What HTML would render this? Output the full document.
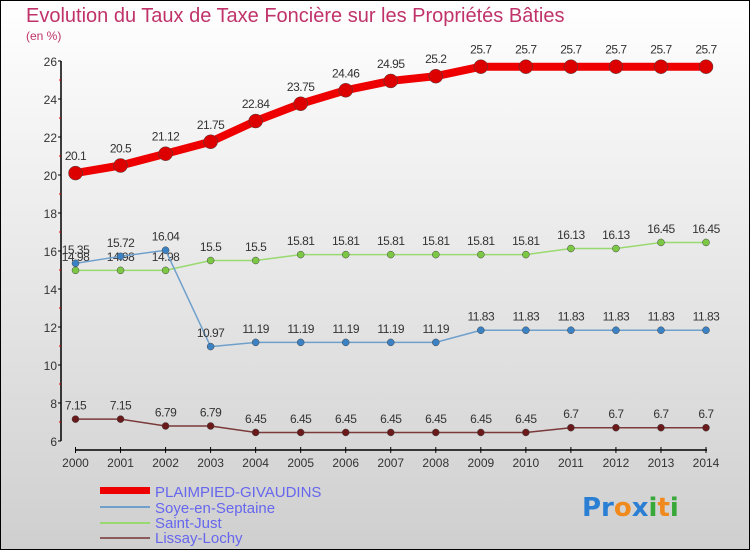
<!DOCTYPE html>
<html><head><meta charset="utf-8"><style>
html,body{margin:0;padding:0}
body{width:750px;height:550px;overflow:hidden;font-family:"Liberation Sans",sans-serif}
svg{display:block}
</style></head><body>
<svg id="chart" width="750" height="550">
<defs><linearGradient id="bg" x1="0" y1="0" x2="0" y2="1"><stop offset="0" stop-color="#ffffff"/><stop offset="1" stop-color="#cfcfcf"/></linearGradient></defs>
<rect x="0.5" y="0.5" width="749" height="549" fill="url(#bg)" stroke="#000" stroke-width="1"/>
<text x="26" y="22" font-size="20" fill="#c0336a">Evolution du Taux de Taxe Foncière sur les Propriétés Bâties</text>
<text x="26" y="40" font-size="12" fill="#c0336a">(en %)</text>
<g id="axes"></g><g id="series"></g>
<g>
<rect x="100" y="487" width="50" height="7" fill="#ee0000"/>
<text x="155" y="497" font-size="15" fill="#6666ee">PLAIMPIED-GIVAUDINS</text>
<rect x="100" y="506" width="50" height="2" fill="#6fa0cc"/>
<text x="155" y="513" font-size="15" fill="#6666ee">Soye-en-Septaine</text>
<rect x="100" y="522" width="50" height="2" fill="#99d970"/>
<text x="155" y="528" font-size="15" fill="#6666ee">Saint-Just</text>
<rect x="100" y="537" width="50" height="2" fill="#8b5a5a"/>
<text x="155" y="543" font-size="15" fill="#6666ee">Lissay-Lochy</text>
</g>
<text x="582" y="516" font-size="26" font-weight="bold" font-family="'DejaVu Sans',sans-serif"><tspan fill="#2a7fd4">Pr</tspan><tspan fill="#f08a1c">o</tspan><tspan fill="#2a7fd4">x</tspan><tspan fill="#38a838">i</tspan><tspan fill="#f08a1c">t</tspan><tspan fill="#38a838">i</tspan></text>
</svg>
<script>
const years = [2000,2001,2002,2003,2004,2005,2006,2007,2008,2009,2010,2011,2012,2013,2014];
const plaimpied = [20.1,20.5,21.12,21.75,22.84,23.75,24.46,24.95,25.2,25.7,25.7,25.7,25.7,25.7,25.7];
const soye = [15.35,15.72,16.04,10.97,11.19,11.19,11.19,11.19,11.19,11.83,11.83,11.83,11.83,11.83,11.83];
const saintJust = [14.98,14.98,14.98,15.5,15.5,15.81,15.81,15.81,15.81,15.81,15.81,16.13,16.13,16.45,16.45];
const lissay = [7.15,7.15,6.79,6.79,6.45,6.45,6.45,6.45,6.45,6.45,6.45,6.7,6.7,6.7,6.7];
const yTicks = [6,8,10,12,14,16,18,20,22,24,26];
const NS='http://www.w3.org/2000/svg';
const xS = i => 75.5 + i*(706-75.5)/(years.length-1);
const yS = v => 441 - (v-6)*19;
function mk(tag, attrs, parent){const e=document.createElementNS(NS,tag);for(const k in attrs)e.setAttribute(k,attrs[k]);parent.appendChild(e);return e;}
const axes=document.getElementById('axes'), ser=document.getElementById('series');
let l=mk('line',{x1:61,y1:yS(26),x2:61,y2:yS(6),stroke:'#000','stroke-width':1.5},axes);


yTicks.forEach(v=>{
  const t=mk('line',{x1:58,y1:yS(v),x2:61,y2:yS(v),stroke:'#000'},axes);
  
  
  const m=mk('line',{x1:59,y1:yS(v+1),x2:61,y2:yS(v+1),stroke:'#d00'},axes);
  if(v===26)m.remove();
  const tx=mk('text',{x:57,y:yS(v)+5,'text-anchor':'end','font-size':12,fill:'#333'},axes);
  tx.textContent=v;
  
  
});
l=mk('line',{x1:75,y1:450,x2:707,y2:450,stroke:'#000','stroke-width':1.5},axes);


years.forEach((y,i)=>{
  mk('line',{x1:xS(i),y1:447,x2:xS(i),y2:453,stroke:'#000'},axes);
  const tx=mk('text',{x:xS(i),y:467,'text-anchor':'middle','font-size':12,fill:'#333'},axes);
  tx.textContent=y;
  
  
});
function drawSeries(vals,color,w,r,dot,name){
  const g=mk('g',{},ser);
  
  
  const p=mk('polyline',{points:vals.map((v,i)=>xS(i)+','+yS(v)).join(' '),fill:'none',stroke:color,'stroke-width':w,'stroke-linejoin':'round'},g);
  
  
  vals.forEach((v,i)=>{
    const c=mk('circle',{cx:xS(i),cy:yS(v),r:r,fill:dot,stroke:'#444','stroke-width':0.5},g);
    
    
    const t=mk('text',{x:xS(i),y:yS(v)-(r+6),'text-anchor':'middle','font-size':12,fill:'#333','letter-spacing':'-0.5'},g);
    t.textContent=v;
    
    
  });
}
drawSeries(lissay,'#7a3a3a',1.5,3.5,'#6a1a1a','lissay-series');
drawSeries(saintJust,'#99d970',1.5,3.5,'#7cc844','saint-just-series');
drawSeries(soye,'#6fa0cc',1.5,3.5,'#3b82c4','soye-series');
drawSeries(plaimpied,'#ee0000',8,7,'#dd0000','plaimpied-series');
</script>
</body></html>
